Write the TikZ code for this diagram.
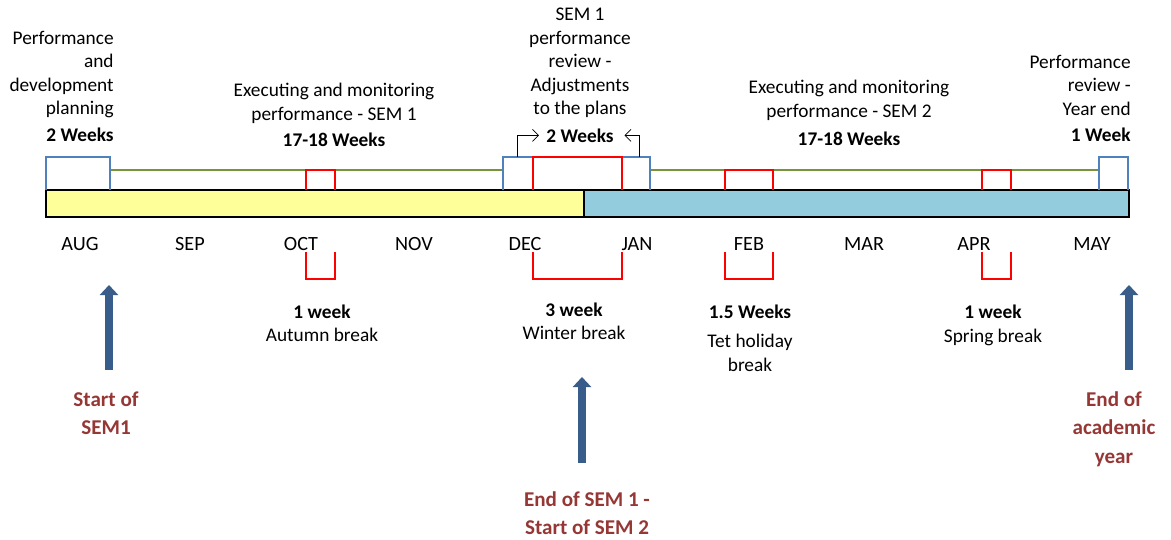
\documentclass[tikz,border=0pt]{standalone}
\usepackage{fontspec}
\setmainfont{Carlito}
\usetikzlibrary{arrows.meta}

\definecolor{semyellow}{HTML}{FFFF99}
\definecolor{semblue}{HTML}{93CDDD}
\definecolor{reviewblue}{HTML}{4F81BD}
\definecolor{linegreen}{HTML}{77933C}
\definecolor{markred}{HTML}{953735}
\definecolor{arrowblue}{HTML}{385D8A}

\begin{document}
\begin{tikzpicture}[x=0.02cm,y=-0.02cm,
        txt/.style={font=\fontsize{11}{13.3}\selectfont,inner sep=0},
        wk/.style={font=\fontsize{11}{13.3}\selectfont\bfseries,inner sep=0},
        month/.style={font=\fontsize{11.5}{13}\selectfont,inner sep=0,anchor=base},
        milestone/.style={font=\fontsize{12}{16.3}\selectfont\bfseries,text=markred,inner sep=0,align=center,anchor=north},
        revbox/.style={draw=reviewblue,line width=1.2pt},
        brk/.style={draw=red,line width=1.3pt},
        bigarrow/.style={arrowblue,line width=4.5pt,-{Triangle[width=0.36cm,length=0.2cm]}}]
        \useasboundingbox (0,0) rectangle (1171,539);
        % semester bar
        \draw[line width=1.5pt,fill=semyellow] (46,190) rectangle (584,217);
        \draw[line width=1.5pt,fill=semblue] (584,190) rectangle (1129,217);
        \draw[linegreen,line width=1.2pt] (110,170) -- (503,170) (650,170) -- (1099,170);
        % review periods
        \draw[revbox] (46,190) |- (110,157) -- (110,190);
        \draw[revbox] (503,190) |- (650,157) -- (650,190);
        \draw[revbox] (1099,190) |- (1128,157) -- (1128,190);
        % breaks
        \foreach \a/\b/\t in {306/335/170, 533/622/157, 725/773/170, 982/1011/170}{
            \draw[brk] (\a,190) |- (\b,\t) -- (\b,190);
            \draw[brk] (\a,252) |- (\b,279) -- (\b,252);
        }
        \foreach \m/\x in {AUG/80, SEP/190, OCT/301, NOV/414, DEC/525, JAN/637, FEB/749, MAR/864, APR/974, MAY/1092}
            \node[month] (\m) at (\x,250) {\m};
        % labels above
        \node[txt,align=right,anchor=north east] (plan) at (114,31) {Performance\\and\\development\\planning};
        \node[wk,anchor=base east] (plan-wk) at (114,141) {2 Weeks};
        \node[txt,align=center,anchor=north] (sem1) at (334,83) {Executing and monitoring\\performance - SEM 1};
        \node[wk,anchor=base] (sem1-wk) at (334,146) {17-18 Weeks};
        \node[txt,align=center,anchor=north] (review) at (580,8) {SEM 1\\performance\\review -\\Adjustments\\to the plans};
        \node[wk,anchor=base] (review-wk) at (580,142) {2 Weeks};
        \node[txt,align=center,anchor=north] (sem2) at (849,80) {Executing and monitoring\\performance - SEM 2};
        \node[wk,anchor=base] (sem2-wk) at (849,145) {17-18 Weeks};
        \node[txt,align=right,anchor=north east] (yearend) at (1131,55) {Performance\\review -\\Year end};
        \node[wk,anchor=base east] (yearend-wk) at (1131,141) {1 Week};
        \coordinate (rev-l) at (517,157);
        \coordinate (rev-r) at (639,157);
        \draw[-{Straight Barb[length=0.12cm,width=0.24cm]},shorten >=4pt] (rev-l) |- (review-wk.west);
        \draw[-{Straight Barb[length=0.12cm,width=0.24cm]},shorten >=6pt] (rev-r) |- (review-wk.east);
        % labels below
        \node[wk,anchor=base] (oct-wk) at (322,318) {1 week};
        \node[txt,anchor=base] (oct-lbl) at (322,341) {Autumn break};
        \node[wk,anchor=base] (dec-wk) at (574,316) {3 week};
        \node[txt,anchor=base] (dec-lbl) at (574,339) {Winter break};
        \node[wk,anchor=base] (feb-wk) at (750,318) {1.5 Weeks};
        \node[txt,align=center,anchor=north] (feb-lbl) at (750,334) {Tet holiday\\break};
        \node[wk,anchor=base] (apr-wk) at (993,318) {1 week};
        \node[txt,anchor=base] (apr-lbl) at (993,342) {Spring break};
        % milestones
        \node[milestone] (start) at (106,391) {Start of\\SEM1};
        \node[milestone] (switch) at (587,491) {End of SEM 1 -\\Start of SEM 2};
        \node[milestone] (end) at (1114,391) {End of\\academic\\year};
        \coordinate (start-base) at (109,370);
        \coordinate (start-tip) at (109,285);
        \coordinate (switch-base) at (582,463);
        \coordinate (switch-tip) at (582,377);
        \coordinate (end-base) at (1129,370);
        \coordinate (end-tip) at (1129,285);
        \draw[bigarrow] (start-base) -- (start-tip);
        \draw[bigarrow] (switch-base) -- (switch-tip);
        \draw[bigarrow] (end-base) -- (end-tip);
    \end{tikzpicture}
\end{document}
